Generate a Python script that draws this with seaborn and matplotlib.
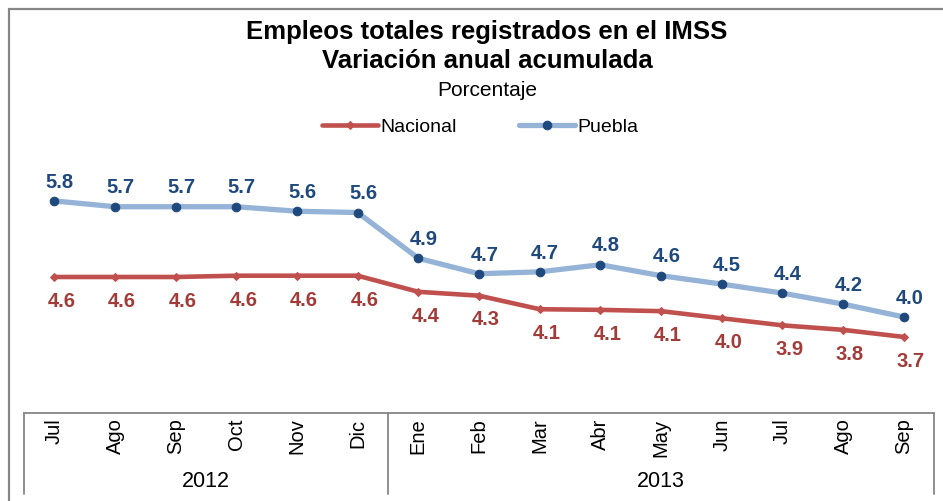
import numpy as np
import pandas as pd
import matplotlib.pyplot as plt
import matplotlib.transforms as mtransforms
from matplotlib.lines import Line2D
from matplotlib.patches import Rectangle
import seaborn as sns

# Datos
meses = ['Jul', 'Ago', 'Sep', 'Oct', 'Nov', 'Dic',
         'Ene', 'Feb', 'Mar', 'Abr', 'May', 'Jun', 'Jul', 'Ago', 'Sep']
anios = ['2012', '2013']
meses_por_anio = [6, 9]
nacional = [4.62, 4.62, 4.62, 4.64, 4.64, 4.64, 4.39, 4.33, 4.12, 4.11,
            4.09, 3.98, 3.87, 3.80, 3.69]
puebla = [5.80, 5.71, 5.71, 5.71, 5.64, 5.62, 4.91, 4.67, 4.70, 4.81,
          4.64, 4.51, 4.37, 4.20, 4.00]

df = pd.DataFrame({'pos': np.arange(len(meses)), 'mes': meses,
                   'Nacional': nacional, 'Puebla': puebla})

sns.set_theme(style='white')
plt.rcParams['font.family'] = ['Liberation Sans', 'DejaVu Sans']
plt.rcParams['text.color'] = 'black'
plt.rcParams['xtick.color'] = 'black'

fig = plt.figure(figsize=(9.43, 5.01), dpi=100)
W, H = 943, 501
ax = fig.add_axes([24 / W, 1 - 413 / H, 910 / W, 263 / H])

rojo, rojo_txt = '#C0504D', '#A33B38'
azul_l, azul_d = '#95B3D7', '#1F497D'

sns.lineplot(data=df, x='pos', y='Nacional', ax=ax, color=rojo, lw=3.3,
             marker='D', markersize=4, markeredgecolor=rojo, label='Nacional')
sns.lineplot(data=df, x='pos', y='Puebla', ax=ax, color=azul_l, lw=3.8,
             marker='o', markersize=6.2, markerfacecolor=azul_d,
             markeredgecolor=azul_d, label='Puebla')

for i, v in enumerate(puebla):
    ax.annotate(f'{v:.1f}', (i, v), xytext=(4, 13.5), textcoords='offset points',
                ha='center', va='center', fontsize=14.5, fontweight='bold',
                color=azul_d)
for i, v in enumerate(nacional):
    ax.annotate(f'{v:.1f}', (i, v), xytext=(5, -17.5), textcoords='offset points',
                ha='center', va='center', fontsize=14.5, fontweight='bold',
                color=rojo_txt)

ax.set_xlim(-0.5, len(meses) - 0.5)
ax.set_ylim(2.51, 6.59)
ax.set_xticks(df['pos'])
ax.set_xticklabels(meses, rotation=90, fontsize=14.5)
ax.tick_params(axis='x', length=0, pad=4)
ax.set_yticks([])
ax.set_xlabel('')
ax.set_ylabel('')
for s in ['top', 'left', 'right']:
    ax.spines[s].set_visible(False)
ax.spines['bottom'].set_color('#868686')
ax.spines['bottom'].set_linewidth(1.3)

# agrupacion por anio
trans = mtransforms.blended_transform_factory(ax.transData, fig.transFigure)
bordes = np.concatenate([[0], np.cumsum(meses_por_anio)]) - 0.5
for b in bordes:
    fig.add_artist(Line2D([b, b], [1 - 413 / H, 1 - 494 / H], transform=trans,
                          color='#868686', lw=1.3))
for k, a in enumerate(anios):
    centro = (bordes[k] + bordes[k + 1]) / 2
    ax.annotate(a, xy=(centro, 0), xycoords=('data', 'axes fraction'),
                xytext=(0, -49), textcoords='offset points', ha='center',
                va='center', fontsize=15.5)

ax.legend_.remove()
fig.legend(handles=ax.get_lines()[:2], labels=['Nacional', 'Puebla'],
           loc='center', bbox_to_anchor=(480 / W, 1 - 127 / H), ncol=2,
           frameon=False, fontsize=14, handlelength=2.9, handletextpad=0.1,
           columnspacing=3.2)

cx = 487 / W
fig.text(cx, 1 - 32 / H, 'Empleos totales registrados en el IMSS', ha='center',
         va='center', fontsize=18.5, fontweight='bold')
fig.text(cx, 1 - 61 / H, 'Variación anual acumulada', ha='center',
         va='center', fontsize=18.5, fontweight='bold')
fig.text(cx, 1 - 90 / H, 'Porcentaje', ha='center', va='center', fontsize=15)

# marco del grafico
fig.patches.append(Rectangle((9 / W, -0.1), 1.1, 1.1 - 9 / H,
                             transform=fig.transFigure, fill=False,
                             edgecolor='#868686', lw=1.6))

fig.savefig('out.png', dpi=100)
